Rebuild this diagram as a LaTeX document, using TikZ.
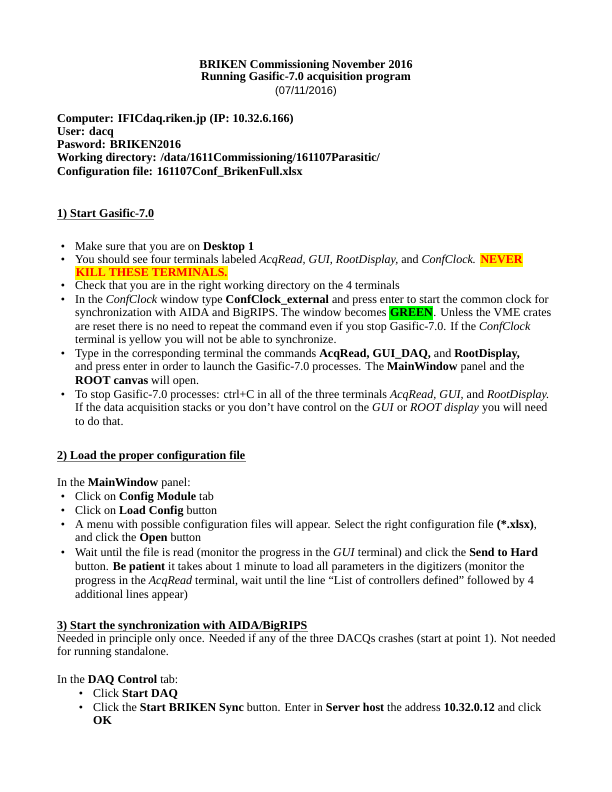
\documentclass[tikz,border=0pt]{standalone}
\usepackage{fontspec}
\setmainfont{Liberation Serif}
\setsansfont{Liberation Sans}
\newcommand{\hlyel}[1]{{\setlength{\fboxsep}{0.6pt}\colorbox{yellow}{\rule[-3pt]{0pt}{12.5pt}\textcolor{red}{\textbf{#1}}}}}
\newcommand{\hlgrn}[1]{{\setlength{\fboxsep}{0.6pt}\colorbox{green}{\rule[-3pt]{0pt}{12.5pt}\textbf{#1}}}}
\begin{document}
\begin{tikzpicture}[x=1pt,y=1pt,
  ln/.style={anchor=base west, inner sep=0pt, font=\fontsize{12}{14}\selectfont},
  ctr/.style={anchor=base, inner sep=0pt, font=\fontsize{12}{14}\selectfont},
  bul/.style={anchor=base, inner sep=0pt, font=\fontsize{12}{14}\selectfont},
  uline/.style={draw=gray, line width=0.5pt}]
\useasboundingbox (0,0) rectangle (612,-792);
\fill[white] (0,0) rectangle (612,-792);
% title
\node[ctr] (t1) at (306,-68) {\textbf{BRIKEN Commissioning November 2016}};
\node[ctr] (t2) at (306,-81) {\textbf{Running Gasific-7.0 acquisition program}};
\node[ctr] (t3) at (306,-94) {\sffamily\fontsize{11}{13}\selectfont (07/11/2016)};
% info
\node[ln] (c1) at (57,-122) {\textbf{Computer: IFICdaq.riken.jp (IP: 10.32.6.166)}};
\node[ln] (c2) at (57,-135) {\textbf{User: dacq}};
\node[ln] (c3) at (57,-148) {\textbf{Pasword: BRIKEN2016}};
\node[ln] (c4) at (57,-161) {\textbf{Working directory: /data/1611Commissioning/161107Parasitic/}};
\node[ln] (c5) at (57,-175) {\textbf{Configuration file: 161107Conf\_BrikenFull.xlsx}};
% section 1
\node[ln] (h1) at (57,-217) {\textbf{1) Start Gasific-7.0}};
\draw[uline] ([yshift=-2.5pt]h1.base west) -- ([yshift=-2.5pt]h1.base east);
\node[bul] (u1) at (63,-250) {•};
\node[ln] (a1) at (75,-250) {Make sure that you are on \textbf{Desktop 1}};
\node[bul] (u2) at (63,-263) {•};
\node[ln] (a2) at (75,-263) {You should see four terminals labeled \textit{AcqRead, GUI, RootDisplay,} and \textit{ConfClock.} \hlyel{NEVER}};
\node[ln] (a2b) at (75,-276) {\hlyel{KILL THESE TERMINALS.}};
\node[bul] (u3) at (63,-289) {•};
\node[ln] (a3) at (75,-289) {Check that you are in the right working directory on the 4 terminals};
\node[bul] (u4) at (63,-303) {•};
\node[ln] (a4) at (75,-303) {In the \textit{ConfClock} window type \textbf{ConfClock\_external} and press enter to start the common clock for};
\node[ln] (a4b) at (75,-316) {synchronization with AIDA and BigRIPS. The window becomes \hlgrn{GREEN}. Unless the VME crates};
\node[ln] (a4c) at (75,-330) {are reset there is no need to repeat the command even if you stop Gasific-7.0. If the \textit{ConfClock}};
\node[ln] (a4d) at (75,-343) {terminal is yellow you will not be able to synchronize.};
\node[bul] (u5) at (63,-357) {•};
\node[ln] (a5) at (75,-357) {Type in the corresponding terminal the commands \textbf{AcqRead, GUI\_DAQ,} and \textbf{RootDisplay,}};
\node[ln] (a5b) at (75,-370) {and press enter in order to launch the Gasific-7.0 processes. The \textbf{MainWindow} panel and the};
\node[ln] (a5c) at (75,-384) {\textbf{ROOT canvas} will open.};
\node[bul] (u6) at (63,-398) {•};
\node[ln] (a6) at (75,-398) {To stop Gasific-7.0 processes: ctrl+C in all of the three terminals \textit{AcqRead, GUI,} and \textit{RootDisplay.}};
\node[ln] (a6b) at (75,-411) {If the data acquisition stacks or you don’t have control on the \textit{GUI} or \textit{ROOT display} you will need};
\node[ln] (a6c) at (75,-425) {to do that.};
% section 2
\node[ln] (h2) at (57,-459) {\textbf{2) Load the proper configuration file}};
\draw[uline] ([yshift=-2.5pt]h2.base west) -- ([yshift=-2.5pt]h2.base east);
\node[ln] (p2) at (57,-486) {In the \textbf{MainWindow} panel:};
\node[bul] (v1) at (63,-500) {•};
\node[ln] (d1) at (75,-500) {Click on \textbf{Config Module} tab};
\node[bul] (v2) at (63,-514) {•};
\node[ln] (d2) at (75,-514) {Click on \textbf{Load Config} button};
\node[bul] (v3) at (63,-528) {•};
\node[ln] (d3) at (75,-528) {A menu with possible configuration files will appear. Select the right configuration file \textbf{(*.xlsx)},};
\node[ln] (d3b) at (75,-541) {and click the \textbf{Open} button};
\node[bul] (v4) at (63,-556) {•};
\node[ln] (d4) at (75,-556) {Wait until the file is read (monitor the progress in the \textit{GUI} terminal) and click the \textbf{Send to Hard}};
\node[ln] (d4b) at (75,-570) {button. \textbf{Be patient} it takes about 1 minute to load all parameters in the digitizers (monitor the};
\node[ln] (d4c) at (75,-584) {progress in the \textit{AcqRead} terminal, wait until the line “List of controllers defined” followed by 4};
\node[ln] (d4d) at (75,-598) {additional lines appear)};
% section 3
\node[ln] (h3) at (57,-629) {\textbf{3) Start the synchronization with AIDA/BigRIPS}};
\draw[uline] ([yshift=-2.5pt]h3.base west) -- ([yshift=-2.5pt]h3.base east);
\node[ln] (n1) at (57,-642) {Needed in principle only once. Needed if any of the three DACQs crashes (start at point 1). Not needed};
\node[ln] (n2) at (57,-655) {for running standalone.};
\node[ln] (p3) at (57,-683) {In the \textbf{DAQ Control} tab:};
\node[bul] (w1) at (81,-697) {•};
\node[ln] (e1) at (93,-697) {Click \textbf{Start DAQ}};
\node[bul] (w2) at (81,-711) {•};
\node[ln] (e2) at (93,-711) {Click the \textbf{Start BRIKEN Sync} button. Enter in \textbf{Server host} the address \textbf{10.32.0.12} and click};
\node[ln] (e2b) at (93,-724) {\textbf{OK}};
\end{tikzpicture}
\end{document}
